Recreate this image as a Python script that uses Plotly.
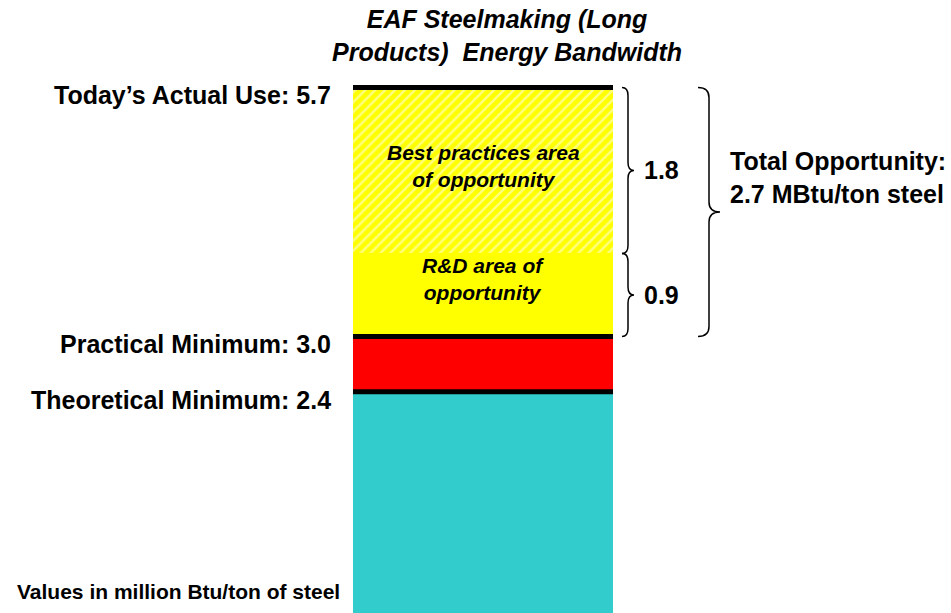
import plotly.graph_objects as go

# Energy bandwidth segments, stacked from the bottom up (million Btu/ton of steel)
segment_names = ["Theoretical minimum", "Practical gap", "R&D area of opportunity", "Best practices area of opportunity"]
segment_values = [2.4, 0.6, 0.9, 1.8]
segment_colors = ["#33CCCC", "#FF0000", "#FFFF00", "#FFFF00"]

# Reference levels marked with black lines and labels
level_names = ["Today\u2019s Actual Use", "Practical Minimum", "Theoretical Minimum"]
level_values = [5.7, 3.0, 2.4]

total_opportunity = 2.7

W, H = 951, 613
Y_MAX = 6.649
PX_PER_UNIT = H / Y_MAX
FONT = "Liberation Sans, Arial, sans-serif"

fig = go.Figure()
for i, (name, val, col) in enumerate(zip(segment_names, segment_values, segment_colors)):
    marker = dict(color=col, line=dict(width=0))
    if i == 3:
        marker["pattern"] = dict(shape="/", fgcolor="white", bgcolor=col, size=7, solidity=0.35)
    fig.add_trace(go.Bar(x=[0], y=[val], name=name, width=1, marker=marker,
                         hoverinfo="name+y", showlegend=False))

# cumulative boundaries
bounds = [0]
for v in segment_values:
    bounds.append(bounds[-1] + v)

# black level lines across the bar
for lv in level_values:
    fig.add_shape(type="line", xref="x", yref="y", x0=-0.5, x1=0.5, y0=lv, y1=lv,
                  line=dict(color="black", width=5))

# level labels to the left of the bar
for name, lv in zip(level_names, level_values):
    fig.add_annotation(xref="x", yref="y", x=-0.5, y=lv, xanchor="right", yanchor="middle",
                       xshift=-20, yshift=-8, showarrow=False,
                       text=f"<b>{name}: {lv:.1f}</b>", font=dict(family=FONT, size=25, color="black"))

# labels inside the opportunity segments
fig.add_annotation(xref="x", yref="y", x=0, y=(bounds[3] + bounds[4]) / 2, yshift=4,
                   xanchor="center", yanchor="middle", showarrow=False, align="center",
                   text="<b><i>Best practices area<br>of opportunity</i></b>",
                   font=dict(family=FONT, size=21, color="black"))
fig.add_annotation(xref="x", yref="y", x=0, y=(bounds[2] + bounds[3]) / 2, yshift=16,
                   xanchor="center", yanchor="middle", showarrow=False, align="center",
                   text="<b><i>R&D area of<br>opportunity</i></b>",
                   font=dict(family=FONT, size=21, color="black"))


def brace_path(x0_px, x1_px, y_top, y_bot, r_px=8):
    """Right-pointing curly brace; x in pixels (paper), y in data units."""
    xa = (x0_px + x1_px) / 2
    px = lambda v: v / W
    r = r_px / PX_PER_UNIT
    ym = (y_top + y_bot) / 2
    return (f"M {px(x0_px)},{y_top} Q {px(xa)},{y_top} {px(xa)},{y_top - r} "
            f"L {px(xa)},{ym + r} Q {px(xa)},{ym} {px(x1_px)},{ym} "
            f"Q {px(xa)},{ym} {px(xa)},{ym - r} "
            f"L {px(xa)},{y_bot + r} Q {px(xa)},{y_bot} {px(x0_px)},{y_bot}")


brace_style = dict(color="black", width=1.5)
fig.add_shape(type="path", xref="paper", yref="y", path=brace_path(622, 634, bounds[4], bounds[3]), line=brace_style)
fig.add_shape(type="path", xref="paper", yref="y", path=brace_path(622, 634, bounds[3], bounds[2]), line=brace_style)
fig.add_shape(type="path", xref="paper", yref="y", path=brace_path(698, 720, bounds[4], bounds[2], r_px=10), line=brace_style)

fig.add_annotation(xref="paper", yref="y", x=642 / W, y=(bounds[3] + bounds[4]) / 2, xanchor="left",
                   yanchor="middle", showarrow=False, text=f"<b>{segment_values[3]:.1f}</b>",
                   font=dict(family=FONT, size=25, color="black"))
fig.add_annotation(xref="paper", yref="y", x=642 / W, y=(bounds[2] + bounds[3]) / 2, xanchor="left",
                   yanchor="middle", showarrow=False, text=f"<b>{segment_values[2]:.1f}</b>",
                   font=dict(family=FONT, size=25, color="black"))
fig.add_annotation(xref="paper", yref="y", x=728 / W, y=(bounds[2] + bounds[4]) / 2, xanchor="left",
                   yanchor="middle", yshift=34, showarrow=False, align="left",
                   text=f"<b>Total Opportunity:<br>{total_opportunity:.1f} MBtu/ton steel</b>",
                   font=dict(family=FONT, size=25, color="black"))

# title
fig.add_annotation(xref="paper", yref="paper", x=507 / W, y=1 - 36 / H, xanchor="center", yanchor="middle",
                   showarrow=False, align="center",
                   text="<b><i>EAF Steelmaking (Long<br>Products)  Energy Bandwidth</i></b>",
                   font=dict(family=FONT, size=25, color="black"))

# units note
fig.add_annotation(xref="paper", yref="paper", x=342 / W, y=1 - 591 / H, xanchor="right", yanchor="middle",
                   showarrow=False, text="<b>Values in million Btu/ton of steel</b>",
                   font=dict(family=FONT, size=21, color="black"))

fig.update_layout(
    width=W, height=H, barmode="stack", bargap=0,
    margin=dict(l=0, r=0, t=0, b=0),
    paper_bgcolor="white", plot_bgcolor="white",
    xaxis=dict(range=[-0.5 - 353 / 260, 0.5 + (W - 613) / 260], visible=False, fixedrange=True),
    yaxis=dict(range=[0, Y_MAX], visible=False, fixedrange=True),
)

fig.write_html("out.html")
